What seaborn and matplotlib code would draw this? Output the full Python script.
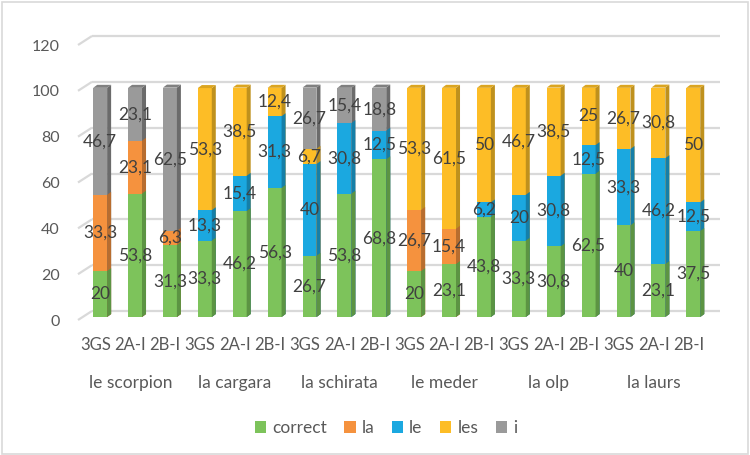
import numpy as np
import pandas as pd
import seaborn as sns
import matplotlib
matplotlib.use("Agg")
import matplotlib.pyplot as plt
from matplotlib.patches import Polygon, Rectangle
from matplotlib.colors import to_rgb
from matplotlib.transforms import ScaledTranslation, blended_transform_factory

# ---- data -------------------------------------------------------------
groups = ["le scorpion", "la cargara", "la schirata", "le meder", "la olp", "la laurs"]
levels = ["3GS", "2A-I", "2B-I"]
series = ["correct", "la", "le", "les", "i"]

correct = [20, 53.8, 31.3, 33.3, 46.2, 56.3, 26.7, 53.8, 68.8,
           20, 23.1, 43.8, 33.3, 30.8, 62.5, 40, 23.1, 37.5]
la = [33.3, 23.1, 6.3, 0, 0, 0, 0, 0, 0,
      26.7, 15.4, 0, 0, 0, 0, 0, 0, 0]
le = [0, 0, 0, 13.3, 15.4, 31.3, 40, 30.8, 12.5,
      0, 0, 6.2, 20, 30.8, 12.5, 33.3, 46.2, 12.5]
les = [0, 0, 0, 53.3, 38.5, 12.4, 6.7, 0, 0,
       53.3, 61.5, 50, 46.7, 38.5, 25, 26.7, 30.8, 50]
i_vals = [46.7, 23.1, 62.5, 0, 0, 0, 26.7, 15.4, 18.8,
          0, 0, 0, 0, 0, 0, 0, 0, 0]

front_colors = ["#7DC35B", "#F5923E", "#1BA8E0", "#FDBD26", "#9A9A9A"]
side_colors = ["#5C9443", "#B86D2F", "#157FA8", "#BF911D", "#6B6B6B"]

# ---- table ------------------------------------------------------------
keys = [f"{g}|{lv}" for g in groups for lv in levels]
values = np.array([correct, la, le, les, i_vals], dtype=float)
cum = np.cumsum(values, axis=0)
df = pd.DataFrame({"bar": keys})
for k, name in enumerate(series):
    df[name] = values[k]
    df["cum_" + name] = cum[k]

# ---- figure -----------------------------------------------------------
sns.set_style("white")
plt.rcParams["font.family"] = ["Lato", "DejaVu Sans"]

W, H = 750, 455
fig = plt.figure(figsize=(W / 100, H / 100), dpi=100)
ax_left, ax_right, ax_bottom, ax_top = 78, 706, 320, 45
ax = fig.add_axes([ax_left / W, (H - ax_bottom) / H,
                   (ax_right - ax_left) / W, (ax_bottom - ax_top) / H])
ax.set_facecolor("none")

n = len(keys)
xmin, xmax, ymax = -0.5, n - 0.5, 120
px_x = (ax_right - ax_left) / (xmax - xmin)
px_y = (ax_bottom - ax_top) / ymax

# bars stand a little behind the front plane
bar_tf = ax.transData + ScaledTranslation(4.7 / 100, 3 / 100, fig.dpi_scale_trans)
side_dx, side_dy = 4 / px_x, 3 / px_y

# back wall gridlines with the left-wall bevel
grid_c = "#D9D9D9"
wall_dx, wall_dy = 14 / px_x, 9 / px_y
for yv in range(0, 121, 20):
    ax.plot([xmin, xmin + wall_dx], [yv, yv + wall_dy], color=grid_c, lw=1.6,
            clip_on=False, zorder=0, solid_capstyle="butt")
    ax.plot([xmin + wall_dx, xmax + wall_dx], [yv + wall_dy, yv + wall_dy],
            color=grid_c, lw=1.6, clip_on=False, zorder=0, solid_capstyle="butt")

# stacked bars: cumulative totals from the top series down
bar_geom = {}
for k in reversed(range(len(series))):
    name = series[k]
    before = len(ax.patches)
    sns.barplot(data=df, x="bar", y="cum_" + name, order=keys, color=front_colors[k],
                saturation=1, width=0.4, linewidth=0, errorbar=None, ax=ax, zorder=2)
    new = ax.patches[before:]
    for j, p in enumerate(new):
        p.set_transform(bar_tf)
        p.set_clip_on(False)
        bar_geom[j] = (p.get_x(), p.get_width())
        if values[k, j] <= 0:
            p.set_visible(False)
            continue
        xr = p.get_x() + p.get_width()
        y0, y1 = 0, p.get_height()
        side = Polygon([(xr, y0), (xr, y1), (xr + side_dx, y1 + side_dy),
                        (xr + side_dx, y0 + side_dy)], closed=True,
                       facecolor=side_colors[k], edgecolor="none",
                       transform=bar_tf, zorder=2, clip_on=False)
        ax.add_patch(side)

# top faces in the colour of the highest segment
for j in range(n):
    k_top = max(k for k in range(len(series)) if values[k, j] > 0)
    xl, w = bar_geom[j]
    yt = cum[-1, j]
    fc = tuple(0.45 * a + 0.55 * b for a, b in
               zip(to_rgb(front_colors[k_top]), to_rgb(side_colors[k_top])))
    top = Polygon([(xl, yt), (xl + w, yt), (xl + w + side_dx, yt + side_dy),
                   (xl + side_dx, yt + side_dy)], closed=True, facecolor=fc,
                  edgecolor="none", transform=bar_tf, zorder=2, clip_on=False)
    ax.add_patch(top)

# value labels
for j in range(n):
    for k in range(len(series)):
        v = values[k, j]
        if v <= 0:
            continue
        mid = cum[k, j] - v / 2
        txt = f"{v:g}".replace(".", ",")
        ax.text(j, mid, txt, transform=bar_tf, ha="center", va="center",
                fontsize=12.5, color="#404040", zorder=5)

# axes
ax.set_xlim(xmin, xmax)
ax.set_ylim(0, ymax)
ax.set_yticks(range(0, 121, 20))
ax.set_xticks(range(n))
ax.set_xticklabels(levels * len(groups))
ax.set_xlabel("")
ax.set_ylabel("")
for s in ax.spines.values():
    s.set_visible(False)
ax.tick_params(axis="y", length=0, pad=13, labelsize=11.5, labelcolor="#595959")
ax.tick_params(axis="x", length=0, pad=12, labelsize=12, labelcolor="#595959")

# group labels
gtf = blended_transform_factory(ax.transData, fig.transFigure)
for g, name in enumerate(groups):
    ax.text(3 * g + 1, (H - 383) / H, name, transform=gtf, ha="center", va="center",
            fontsize=12.5, color="#595959")

# legend
handles = [Rectangle((0, 0), 1, 1, facecolor=c, edgecolor="none") for c in front_colors]
fig.legend(handles, series, loc="center", bbox_to_anchor=(386 / W, (H - 428) / H),
           ncol=5, frameon=False, handlelength=0.65, handleheight=0.65,
           handletextpad=0.35, columnspacing=1.0, fontsize=12.5, labelcolor="#595959")

# chart border
fig.add_artist(Rectangle((2 / W, 1 / H), (W - 4) / W, (H - 3) / H, transform=fig.transFigure,
                         fill=False, edgecolor="#D9D9D9", lw=1.2))

fig.savefig("out.png", dpi=100)
